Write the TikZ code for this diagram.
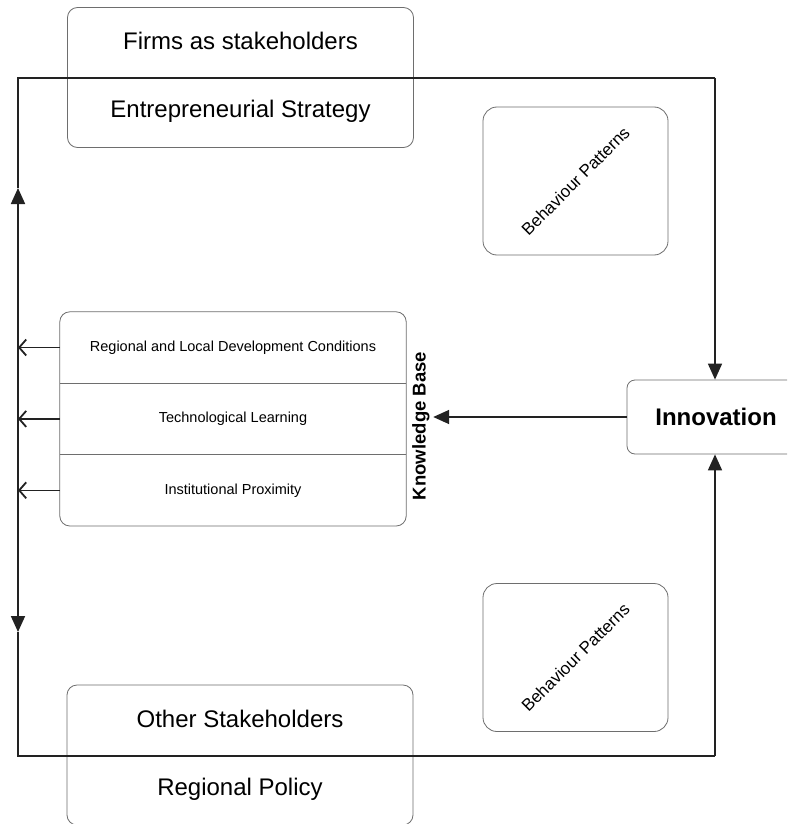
\documentclass[tikz,border=0pt]{standalone}
\usepackage{fontspec}
\setmainfont{Liberation Sans}
\usetikzlibrary{arrows.meta, positioning, fit}
\definecolor{boxline}{HTML}{6E6E6E}
\definecolor{wireline}{HTML}{222222}
\tikzset{
  stake/.style={rectangle, rounded corners=10pt, draw=boxline, thick,
    align=center, font=\fontsize{24}{68}\selectfont,
    minimum width=346pt, minimum height=140pt, inner sep=0pt},
  behav/.style={rectangle, rounded corners=14pt, draw=boxline, thick,
    minimum width=185pt, minimum height=148pt},
  kbrow/.style={rectangle, minimum width=346pt, minimum height=71pt,
    inner sep=0pt, font=\fontsize{14.5}{16}\selectfont},
  innov/.style={rectangle, rounded corners=8pt, draw=boxline, thick,
    minimum width=178pt, minimum height=74pt,
    font=\fontsize{24}{28}\selectfont\bfseries},
  wire/.style={wireline, line width=1.3pt},
  ar/.style={-{Triangle[length=16pt, width=14pt]}, wireline, line width=1.6pt},
  dar/.style={{Triangle[length=16pt, width=14pt]}-{Triangle[length=16pt, width=14pt]},
    wireline, line width=1.8pt},
  oar/.style={-{Straight Barb[length=7pt, width=16pt, line width=1.8pt]},
    wireline, line width=1.5pt},
}

\begin{document}
\begin{tikzpicture}[x=1pt, y=-1pt]
  \clip (0,0) rectangle (787,824);
  \fill[white] (0,0) rectangle (787,824);

  % stakeholder boxes
  \node[stake] (firms) at (240.5,77.5)
    {Firms as stakeholders\\Entrepreneurial Strategy};
  \node[stake] (others) at (240,755)
    {Other Stakeholders\\Regional Policy};

  % knowledge base rows
  \node[kbrow] (rdc) at (233,347.5) {Regional and Local Development Conditions};
  \node[kbrow, below=0pt of rdc] (tech) {Technological Learning};
  \node[kbrow, below=0pt of tech] (inst) {Institutional Proximity};
  \node[rectangle, rounded corners=10pt, draw=boxline, thick, inner sep=0pt,
    fit=(rdc) (inst)] (kb) {};
  \draw[boxline, thick] (rdc.south west) -- (rdc.south east);
  \draw[boxline, thick] (tech.south west) -- (tech.south east);
  \node[rotate=90, font=\fontsize{18.5}{20}\selectfont\bfseries]
    (kblabel) at (421,426) {Knowledge Base};

  % behaviour patterns
  \node[behav] (bp1) at (575.5,181) {};
  \node[rotate=45, font=\fontsize{17}{18}\selectfont] at (bp1) {Behaviour Patterns};
  \node[behav] (bp2) at (575.5,657.5) {};
  \node[rotate=45, font=\fontsize{17}{18}\selectfont] at (bp2) {Behaviour Patterns};

  % innovation
  \node[innov] (inn) at (716,417) {Innovation};

  % loop
  \coordinate (tl) at (18,78);
  \coordinate (tr) at (715,78);
  \coordinate (bl) at (18,756);
  \coordinate (br) at (715,756);
  \coordinate (up) at (18,188);
  \coordinate (dn) at (18,632);
  \draw[wire] (up) -- (tl) -- (tr);
  \draw[ar] (tr) -- (tr |- inn.north);
  \draw[wire] (dn) -- (bl) -- (br);
  \draw[ar] (br) -- (br |- inn.south);
  \draw[dar] (up) -- (dn);

  \draw[ar] (inn.west) -- (kblabel.south |- inn.west);
  \foreach \r in {rdc, tech, inst}
    \draw[oar] (\r.west) -- (\r.west -| tl);
\end{tikzpicture}
\end{document}
